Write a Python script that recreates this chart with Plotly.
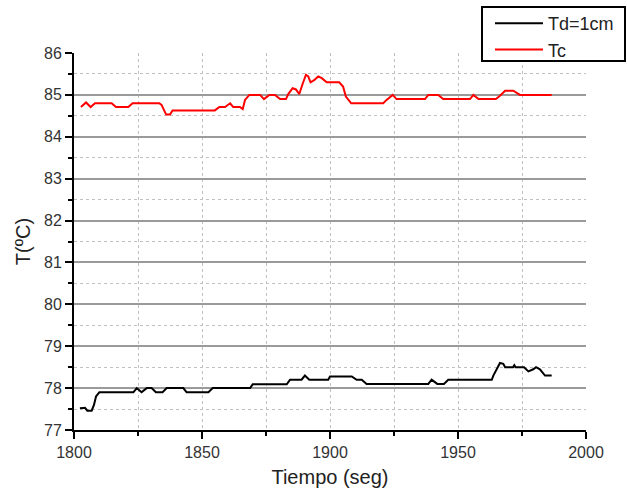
import plotly.graph_objects as go

# Td=1cm series (black)
td_t = [1802.3, 1804.3, 1805.2, 1806.9, 1807.8, 1808.6, 1809.9, 1823.2, 1824.5, 1826.4,
        1828.4, 1830.3, 1832.0, 1834.6, 1836.2, 1842.7, 1844.0, 1852.5, 1854.2, 1868.8,
        1869.8, 1883.1, 1884.4, 1888.9, 1890.2, 1891.9, 1899.3, 1900.0, 1908.5, 1910.4,
        1912.4, 1914.3, 1938.4, 1939.7, 1941.9, 1944.5, 1946.2, 1963.2, 1963.8, 1965.1,
        1966.4, 1967.7, 1968.4, 1971.5, 1972.0, 1972.5, 1975.8, 1977.5, 1979.4, 1980.5,
        1982.0, 1984.0, 1986.6]
td_v = [77.52, 77.53, 77.46, 77.46, 77.6, 77.8, 77.9, 77.9, 78.0, 77.9,
        78.0, 78.0, 77.9, 77.9, 78.0, 78.0, 77.9, 77.9, 78.0, 78.0,
        78.09, 78.09, 78.2, 78.2, 78.3, 78.2, 78.2, 78.28, 78.28, 78.2,
        78.2, 78.1, 78.1, 78.2, 78.1, 78.1, 78.2, 78.2, 78.3, 78.47,
        78.6, 78.58, 78.5, 78.5, 78.55, 78.5, 78.5, 78.4, 78.45, 78.5,
        78.45, 78.3, 78.3]

# Tc series (red)
tc_t = [1802.7, 1804.7, 1806.5, 1808.2, 1814.7, 1816.4, 1821.2, 1822.9, 1833.3, 1834.2,
        1836.0, 1837.5, 1838.5, 1855.0, 1856.8, 1859.0, 1861.0, 1862.2, 1864.8, 1865.9,
        1866.8, 1868.5, 1872.7, 1874.2, 1876.3, 1878.5, 1880.5, 1882.8, 1883.7, 1885.4,
        1886.7, 1888.0, 1889.3, 1890.6, 1891.5, 1892.4, 1893.8, 1895.4, 1896.8, 1898.7,
        1903.6, 1905.1, 1906.2, 1908.3, 1920.8, 1922.1, 1924.5, 1926.0, 1937.1, 1938.4,
        1942.3, 1944.2, 1954.7, 1956.0, 1958.0, 1964.8, 1966.4, 1968.4, 1971.6, 1974.2,
        1986.6]
tc_v = [84.71, 84.82, 84.71, 84.8, 84.8, 84.71, 84.71, 84.8, 84.8, 84.76,
        84.53, 84.53, 84.63, 84.63, 84.71, 84.71, 84.8, 84.71, 84.71, 84.66,
        84.88, 85.0, 85.0, 84.9, 85.0, 85.0, 84.9, 84.9, 85.02, 85.16,
        85.13, 85.02, 85.26, 85.48, 85.44, 85.3, 85.35, 85.44, 85.4, 85.3,
        85.3, 85.2, 84.96, 84.8, 84.8, 84.88, 85.0, 84.9, 84.9, 85.0,
        85.0, 84.9, 84.9, 85.0, 84.9, 84.9, 84.98, 85.1, 85.1, 85.0,
        85.0]

x_ticks = [1800, 1850, 1900, 1950, 2000]
x_grid = [1850, 1900, 1950]
y_ticks = [77, 78, 79, 80, 81, 82, 83, 84, 85, 86]

font = "Liberation Sans, Arial, sans-serif"

# plot area in pixels (for placing legend frame in paper coords)
PL, PR, PT, PB = 74, 586, 53, 430
def px(x):
    return (x - PL) / (PR - PL)
def py(y):
    return (PB - y) / (PB - PT)

fig = go.Figure()
fig.add_trace(go.Scatter(x=td_t, y=td_v, mode="lines", name="Td=1cm",
                         line=dict(color="black", width=2)))
fig.add_trace(go.Scatter(x=tc_t, y=tc_v, mode="lines", name="Tc",
                         line=dict(color="#ff0000", width=2)))

fig.add_shape(type="rect", xref="paper", yref="paper",
              x0=px(482), x1=px(625), y0=py(61), y1=py(7),
              line=dict(color="black", width=2), fillcolor="white", layer="above")

fig.update_layout(
    width=627, height=495,
    margin=dict(l=PL, r=627 - PR, t=PT, b=495 - PB, autoexpand=False),
    paper_bgcolor="white", plot_bgcolor="white",
    font=dict(family=font, color="#333333"),
    showlegend=True,
    legend=dict(x=px(490), y=py(5),
                xanchor="left", yanchor="top",
                borderwidth=0, bgcolor="rgba(0,0,0,0)",
                font=dict(size=18, color="#222222"),
                tracegroupgap=0, itemwidth=48),
    xaxis=dict(
        range=[1800, 2000], tickvals=x_ticks, ticktext=[str(v) for v in x_ticks],
        showline=True, linecolor="black", linewidth=2,
        ticks="outside", ticklen=7, tickwidth=2, tickcolor="black",
        tickfont=dict(size=16, color="#333333"),
        showgrid=False, zeroline=False, automargin=False,
        minor=dict(dtick=25, tick0=1800, ticks="outside", ticklen=4, tickwidth=2, tickcolor="black",
                   showgrid=True, gridcolor="#c0c0c0", griddash="dot", gridwidth=1),
        title=dict(text="Tiempo (seg)", font=dict(size=20, color="#222222"), standoff=10),
    ),
    xaxis2=dict(
        overlaying="x", matches="x", range=[1800, 2000], tickvals=x_grid,
        showticklabels=False, ticks="", showline=False, zeroline=False,
        showgrid=True, gridcolor="#9a9a9a", gridwidth=1.5, automargin=False,
    ),
    yaxis=dict(
        range=[77, 86], tickvals=y_ticks, ticktext=[str(v) for v in y_ticks],
        showline=True, linecolor="black", linewidth=2,
        ticks="outside", ticklen=7, tickwidth=2, tickcolor="black",
        tickfont=dict(size=16, color="#333333"),
        showgrid=True, gridcolor="#9a9a9a", gridwidth=1.5,
        zeroline=False, automargin=False,
        minor=dict(dtick=0.5, tick0=77, ticks="outside", ticklen=4, tickwidth=2, tickcolor="black",
                   showgrid=True, gridcolor="#c0c0c0", griddash="dot", gridwidth=1),
        title=dict(text="T(ºC)", font=dict(size=20, color="#222222"), standoff=8),
    ),
)

fig.write_html("out.html", config={"displayModeBar": False},
               post_script="document.body.style.margin='0';")
